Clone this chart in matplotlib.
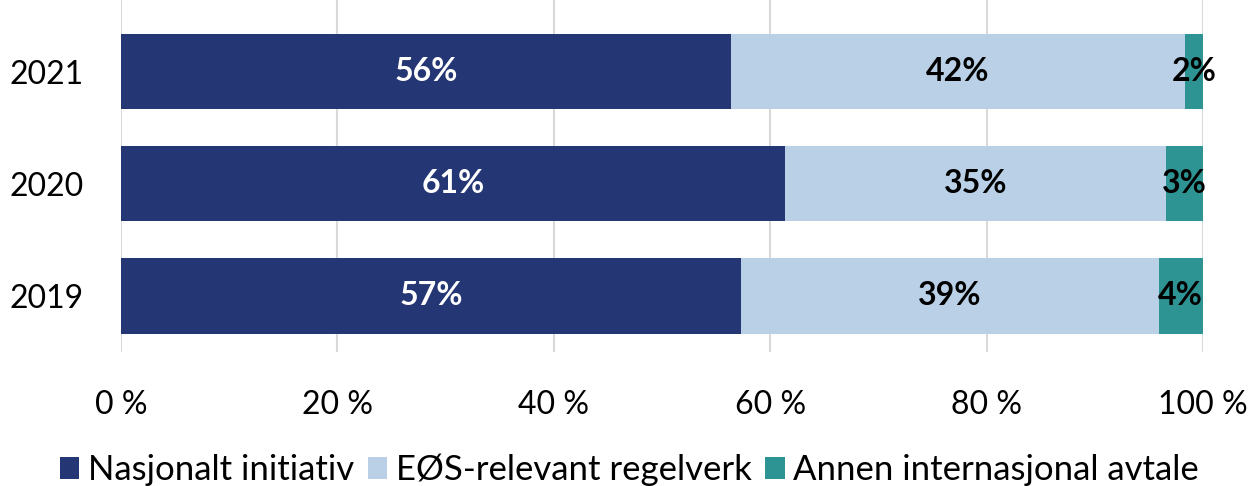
import matplotlib.pyplot as plt

plt.rcParams["font.family"] = ["Lato", "DejaVu Sans"]

years = ["2019", "2020", "2021"]
nasjonalt = [57.3, 61.4, 56.4]
eos = [38.6, 35.2, 41.9]
annen = [4.1, 3.4, 1.7]
labels_nasj = ["57%", "61%", "56%"]
labels_eos = ["39%", "35%", "42%"]
labels_annen = ["4%", "3%", "2%"]

series = [
    ("Nasjonalt initiativ", nasjonalt, labels_nasj, "#243673", "white"),
    ("EØS-relevant regelverk", eos, labels_eos, "#BAD0E6", "black"),
    ("Annen internasjonal avtale", annen, labels_annen, "#2D9393", "black"),
]

fig = plt.figure(figsize=(12.5, 4.86), dpi=100)
ax = fig.add_axes([0.0968, 0.2757, 0.8656, 0.7243])

left = [0.0] * len(years)
for name, vals, labs, col, tcol in series:
    bars = ax.barh(years, vals, left=left, height=0.67, color=col, label=name)
    for b, lab in zip(bars, labs):
        ax.text(b.get_x() + b.get_width() / 2, b.get_y() + b.get_height() / 2,
                lab, ha="center", va="center", color=tcol,
                fontsize=23, fontweight="bold")
    left = [l + v for l, v in zip(left, vals)]

ax.set_xlim(0, 100)
ax.set_ylim(-0.5, 2.64)
ax.set_xticks(range(0, 101, 20))
ax.set_xticklabels([f"{t} %" for t in range(0, 101, 20)])
ax.tick_params(axis="both", length=0, labelsize=23)
ax.tick_params(axis="x", pad=27)
ax.tick_params(axis="y", pad=27)
ax.grid(axis="x", color="#D9D9D9", linewidth=1.5)
ax.set_axisbelow(True)
for s in ax.spines.values():
    s.set_visible(False)

ax.legend(loc="center", bbox_to_anchor=(0.47, -0.335), ncol=3, frameon=False,
          fontsize=25, handlelength=0.55, handleheight=0.6, handletextpad=0.25,
          columnspacing=0.4, borderpad=0)

fig.savefig("out.png", dpi=100)
